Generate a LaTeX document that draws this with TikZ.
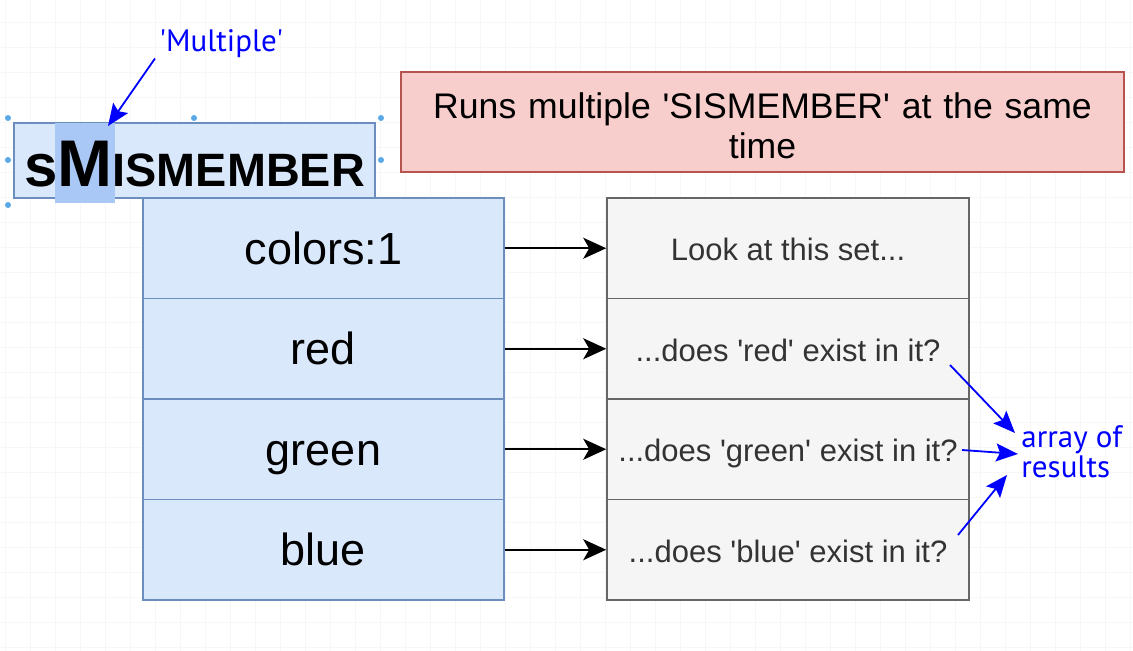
\documentclass[tikz,border=0pt]{standalone}
\usepackage{fontspec}
\newfontfamily\boxfont{Liberation Sans}
\newfontfamily\notefont{PT Sans}
\usetikzlibrary{arrows.meta}
\definecolor{keyfill}{HTML}{DAE8FC}
\definecolor{keyline}{HTML}{6C8EBF}
\definecolor{askfill}{HTML}{F5F5F5}
\definecolor{askline}{HTML}{666666}
\definecolor{notefill}{HTML}{F8CECC}
\definecolor{noteline}{HTML}{B85450}
\definecolor{selfill}{HTML}{A9C8F5}
\definecolor{handle}{HTML}{5AA9E6}
\definecolor{ink}{HTML}{0000FF}
\tikzset{
  keybox/.style={draw=keyline, fill=keyfill, line width=0.6pt, minimum width=180.5pt, minimum height=50.25pt, inner sep=0pt, text height=17pt, text depth=1pt, font=\boxfont\fontsize{22.5}{27}\selectfont},
  askbox/.style={draw=askline, fill=askfill, line width=0.8pt, minimum width=181pt, minimum height=50.25pt, inner sep=0pt, text height=12.5pt, text depth=0pt, text=black!80, font=\boxfont\fontsize{15.5}{18}\selectfont},
  flow/.style={-{Stealth[length=11.5pt,width=10.5pt,inset=3pt]}, line width=1pt},
  remark/.style={text=ink, align=left, inner sep=0pt, font=\notefont\fontsize{15.5}{15}\selectfont},
  pointer/.style={ink, line width=0.9pt, -{Stealth[length=11pt,width=9pt,inset=2pt]}},
  gridline/.style={black!3, line width=0.4pt}
}
\newcommand{\setrow}[4]{ \node[keybox] (k#1) at (323.5,#2) {#3}; \node[askbox] (v#1) at (788,#2) {#4}; \draw[flow] (k#1) -- (v#1);}

\begin{document}
\begin{tikzpicture}[x=0.5pt,y=-0.5pt]
        \useasboundingbox (0,0) rectangle (1133,651);
        \fill[white] (0,0) rectangle (1133,651);
        % grid
        \foreach \gx in {5,30,...,1130} \draw[gridline] (\gx,0) -- (\gx,651);
        \foreach \gy in {22,47,...,647} \draw[gridline] (0,\gy) -- (1133,\gy);
        % command box
        \node[draw=keyline, fill=keyfill, line width=0.6pt, minimum width=180.5pt, minimum height=37.5pt, inner sep=0pt] (cmd) at (194.5,160.5) {};
        \fill[selfill] (55,123) rectangle (115,203);
        \node[anchor=base west, inner sep=0pt, font=\boxfont\bfseries] (cmdtext) at (24,187) {{\fontsize{30}{30}\selectfont s}{\fontsize{33}{33}\selectfont M}{\fontsize{23.4}{23}\selectfont ISMEMBER}};
        \foreach \hx/\hy in {8/118,194/118,381/118,8/160,381/160,8/205,194/205,381/205} \fill[handle] (\hx,\hy) circle (1.5pt);
        % note
        \node[draw=noteline, fill=notefill, line width=0.8pt, minimum width=361.5pt, minimum height=50pt, text width=350pt, align=center, font=\boxfont\fontsize{17.8}{20}\selectfont] (about) at (762.5,122) {\rule{0pt}{17pt}Runs multiple 'SISMEMBER' at the same\\time};
        % rows
        \setrow{1}{248.25}{colors:1}{Look at this set...}
        \setrow{2}{348.75}{red}{...does 'red' exist in it?}
        \setrow{3}{449.25}{green}{...does 'green' exist in it?}
        \setrow{4}{549.75}{blue}{...does 'blue' exist in it?}
        % remarks
        \node[remark, anchor=west] (multi) at (159,44) {'Multiple'};
        \coordinate (mtip) at (108,126);
        \draw[pointer] ([shift={(-4,0)}]multi.south west) -- (mtip);
        \node[remark, anchor=west] (res) at (1021,452) {array of\\results};
        \coordinate (r2) at (950,365);
        \coordinate (r3) at (962,450);
        \coordinate (r4) at (958,535);
        \draw[pointer] (r2) -- ([shift={(-6,-19)}]res.west);
        \draw[pointer] (r3) -- ([shift={(-3,2)}]res.west);
        \draw[pointer] (r4) -- ([shift={(-14,23)}]res.west);
    \end{tikzpicture}
\end{document}
